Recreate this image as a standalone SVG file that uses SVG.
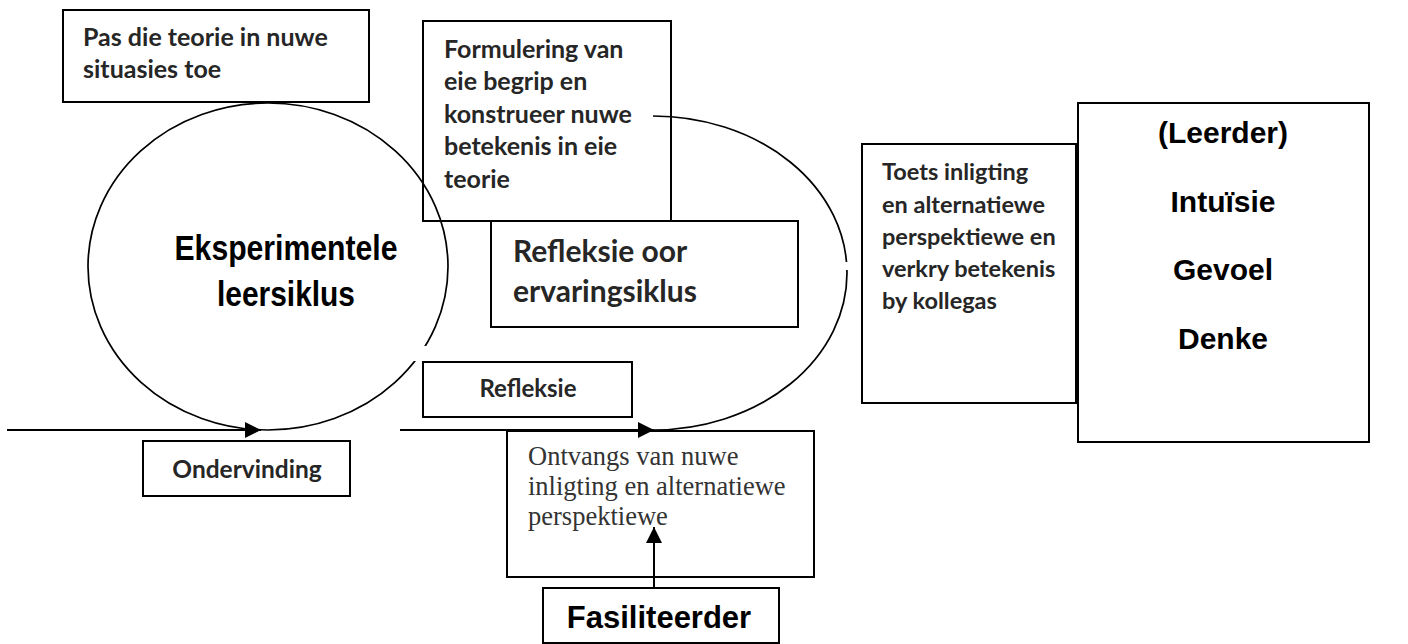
<svg xmlns="http://www.w3.org/2000/svg" width="1408" height="644" viewBox="0 0 1408 644">
<style>
.box{fill:none;stroke:#000;stroke-width:2}
.cal{font-family:Lato,"Liberation Sans",sans-serif;font-weight:bold;fill:#262626}
.ari{font-family:"Liberation Sans",Arial,sans-serif;font-weight:bold;fill:#000}
.tim{font-family:"Liberation Serif","Times New Roman",serif;fill:#333}
.ln{fill:none;stroke:#000;stroke-width:2}
.cyc{fill:none;stroke:#000;stroke-width:1.7}
</style>
<defs>
<marker id="ah" markerUnits="userSpaceOnUse" markerWidth="17" markerHeight="17" refX="16" refY="8" orient="auto">
<path d="M0,0 L16,8 L0,16 Z" fill="#000"/>
</marker>
</defs>
<rect width="1408" height="644" fill="#fff"/>
<g id="connectors">
<ellipse class="cyc" cx="268" cy="266.5" rx="180" ry="163.5"/>
<path class="cyc" d="M653,116 A194,157 0 0 1 653,430"/>
<rect x="404" y="346" width="22" height="15" fill="#fff"/>
<rect x="838" y="262" width="14" height="8" fill="#fff"/>
<line class="ln" x1="7" y1="430" x2="261" y2="430" marker-end="url(#ah)"/>
<line class="ln" x1="400" y1="430" x2="654" y2="430" marker-end="url(#ah)"/>
<line class="ln" x1="654" y1="588" x2="654" y2="527" marker-end="url(#ah)"/>
</g>
<g id="cycle-label">
<text class="ari" font-size="35" text-anchor="middle" x="286" y="260" textLength="223" lengthAdjust="spacingAndGlyphs">Eksperimentele</text>
<text class="ari" font-size="35" text-anchor="middle" x="286" y="306" textLength="138" lengthAdjust="spacingAndGlyphs">leersiklus</text>
</g>
<g id="pas">
<rect class="box" x="63" y="10" width="306" height="92"/>
<text class="cal" font-size="25" x="83" y="46">Pas die teorie in nuwe</text>
<text class="cal" font-size="25" x="83" y="78">situasies toe</text>
</g>
<g id="formulering">
<rect class="box" x="423" y="21" width="248" height="200"/>
<text class="cal" font-size="25" x="444" y="58">Formulering van</text>
<text class="cal" font-size="25" x="444" y="90">eie begrip en</text>
<text class="cal" font-size="25" x="444" y="123">konstrueer nuwe</text>
<text class="cal" font-size="25" x="444" y="155">betekenis in eie</text>
<text class="cal" font-size="25" x="444" y="188">teorie</text>
</g>
<g id="refleksie-oor">
<rect class="box" x="491" y="221" width="307" height="106"/>
<text class="cal" font-size="30" x="513" y="262">Refleksie oor</text>
<text class="cal" font-size="30" x="513" y="302">ervaringsiklus</text>
</g>
<g id="refleksie">
<rect class="box" x="423" y="362" width="209" height="55"/>
<text class="cal" font-size="24" text-anchor="middle" x="528" y="397">Refleksie</text>
</g>
<g id="ondervinding">
<rect class="box" x="143" y="441" width="207" height="55"/>
<text class="cal" font-size="24.5" text-anchor="middle" x="247" y="478">Ondervinding</text>
</g>
<g id="ontvangs">
<rect class="box" x="507" y="431" width="307" height="146"/>
<text class="tim" font-size="26.5" x="528" y="465">Ontvangs van nuwe</text>
<text class="tim" font-size="26.5" x="528" y="495">inligting en alternatiewe</text>
<text class="tim" font-size="26.5" x="528" y="525">perspektiewe</text>
</g>
<g id="fasiliteerder">
<rect class="box" x="543" y="588" width="236" height="55"/>
<text class="ari" font-size="31" text-anchor="middle" x="659" y="628">Fasiliteerder</text>
</g>
<g id="toets">
<rect class="box" x="862" y="144" width="214" height="259"/>
<text class="cal" font-size="23.5" x="882" y="180">Toets inligting</text>
<text class="cal" font-size="23.5" x="882" y="213">en alternatiewe</text>
<text class="cal" font-size="23.5" x="882" y="245">perspektiewe en</text>
<text class="cal" font-size="23.5" x="882" y="277">verkry betekenis</text>
<text class="cal" font-size="23.5" x="882" y="309">by kollegas</text>
</g>
<g id="leerder">
<rect class="box" x="1078" y="103" width="291" height="339"/>
<text class="ari" font-size="30" text-anchor="middle" x="1223" y="143">(Leerder)</text>
<text class="ari" font-size="30" text-anchor="middle" x="1223" y="212">Intuïsie</text>
<text class="ari" font-size="30" text-anchor="middle" x="1223" y="280">Gevoel</text>
<text class="ari" font-size="30" text-anchor="middle" x="1223" y="349">Denke</text>
</g>
</svg>
